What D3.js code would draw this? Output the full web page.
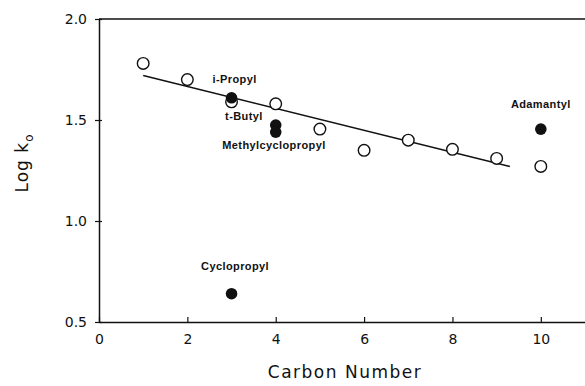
<!DOCTYPE html>
<html>
<head>
<meta charset="utf-8">
<script src="https://cdn.jsdelivr.net/npm/d3@7"></script>
<style>
  body { margin: 0; background: #fff; }
  .tick text { font-family: "DejaVu Sans", sans-serif; font-size: 14px; fill: #111; }
  .lbl { font-family: "Liberation Sans", Arial, sans-serif; font-size: 11px; font-weight: bold; fill: #111; letter-spacing: 0.4px; }
  .title { font-family: "DejaVu Sans", sans-serif; font-size: 17px; fill: #111; }
</style>
</head>
<body>
<div id="chart-area"></div>
<script>
// open circles: hydrocarbon series
const carbonOpen = [1, 2, 3, 4, 5, 6, 7, 8, 9, 10];
const logkOpen = [1.78, 1.70, 1.59, 1.58, 1.455, 1.35, 1.40, 1.355, 1.31, 1.27];

// filled circles: labelled substituents
const carbonFilled = [3, 4, 4, 3, 10];
const logkFilled = [1.61, 1.475, 1.44, 0.64, 1.455];

const labelNames = ["i-Propyl", "t-Butyl", "Methylcyclopropyl", "Cyclopropyl", "Adamantyl"];
const labelX = [3.07, 3.28, 3.96, 3.08, 10.0];
const labelY = [1.70, 1.515, 1.37, 0.77, 1.575];

// fitted line end points
const fitX = [1, 9.3];
const fitY = [1.72, 1.27];

const xTicks = [0, 2, 4, 6, 8, 10];
const yTicks = [0.5, 1.0, 1.5, 2.0];

const chartSize = {width: 585, height: 386};
const margin = {left: 99, right: 0, top: 19, bottom: 64};
const width = chartSize.width - margin.left - margin.right;
const height = chartSize.height - margin.top - margin.bottom;

const x = d3.scaleLinear().domain([0, 11]).range([0, width]);
const y = d3.scaleLinear().domain([0.5, 2.0]).range([height, 0]);

const svg = d3.select("#chart-area").append("svg")
    .attr("width", chartSize.width)
    .attr("height", chartSize.height);

const g = svg.append("g").attr("transform", `translate(${margin.left}, ${margin.top})`);

// frame top line
g.append("line")
    .attr("x1", 0).attr("x2", width)
    .attr("y1", 0).attr("y2", 0)
    .attr("stroke", "#111").attr("stroke-width", 1.5);

const xAxis = d3.axisBottom(x).tickValues(xTicks).tickFormat(d3.format("d"))
    .tickSizeInner(-5).tickSizeOuter(0).tickPadding(12);
const yAxis = d3.axisLeft(y).tickValues(yTicks).tickFormat(d3.format(".1f"))
    .tickSizeInner(4).tickSizeOuter(0).tickPadding(8);

const gx = g.append("g").attr("transform", `translate(0, ${height})`).call(xAxis);
const gy = g.append("g").call(yAxis);

[gx, gy].forEach(a => {
    a.select(".domain").attr("stroke", "#111").attr("stroke-width", 1.5);
    a.selectAll(".tick line").attr("stroke", "#111").attr("stroke-width", 1.2);
});
// y ticks cross the axis a little
gy.selectAll(".tick line").attr("x1", 3);

gx.selectAll(".tick text").attr("dy", "0.71em");

// fit line
g.append("line")
    .attr("x1", x(fitX[0])).attr("y1", y(fitY[0]))
    .attr("x2", x(fitX[1])).attr("y2", y(fitY[1]))
    .attr("stroke", "#111").attr("stroke-width", 1.5);

g.selectAll(".open").data(carbonOpen).enter().append("circle")
    .attr("class", "open")
    .attr("cx", d => x(d))
    .attr("cy", (d, i) => y(logkOpen[i]))
    .attr("r", 5.8)
    .attr("fill", "#fff")
    .attr("stroke", "#111")
    .attr("stroke-width", 1.4);

g.selectAll(".filled").data(carbonFilled).enter().append("circle")
    .attr("class", "filled")
    .attr("cx", d => x(d))
    .attr("cy", (d, i) => y(logkFilled[i]))
    .attr("r", 5.8)
    .attr("fill", "#111");

g.selectAll(".lbl").data(labelNames).enter().append("text")
    .attr("class", "lbl")
    .attr("x", (d, i) => x(labelX[i]))
    .attr("y", (d, i) => y(labelY[i]))
    .attr("text-anchor", "middle")
    .attr("dominant-baseline", "middle")
    .text(d => d);

svg.append("text")
    .attr("class", "title")
    .attr("x", 345).attr("y", 378)
    .attr("text-anchor", "middle")
    .attr("letter-spacing", "1.5px")
    .text("Carbon Number");

const yt = svg.append("text")
    .attr("class", "title")
    .attr("transform", "translate(28, 163) rotate(-90)")
    .attr("text-anchor", "middle")
    .attr("letter-spacing", "1px");
yt.append("tspan").text("Log k");
yt.append("tspan").attr("dy", 5).attr("font-size", "12px").text("o");
</script>
</body>
</html>
